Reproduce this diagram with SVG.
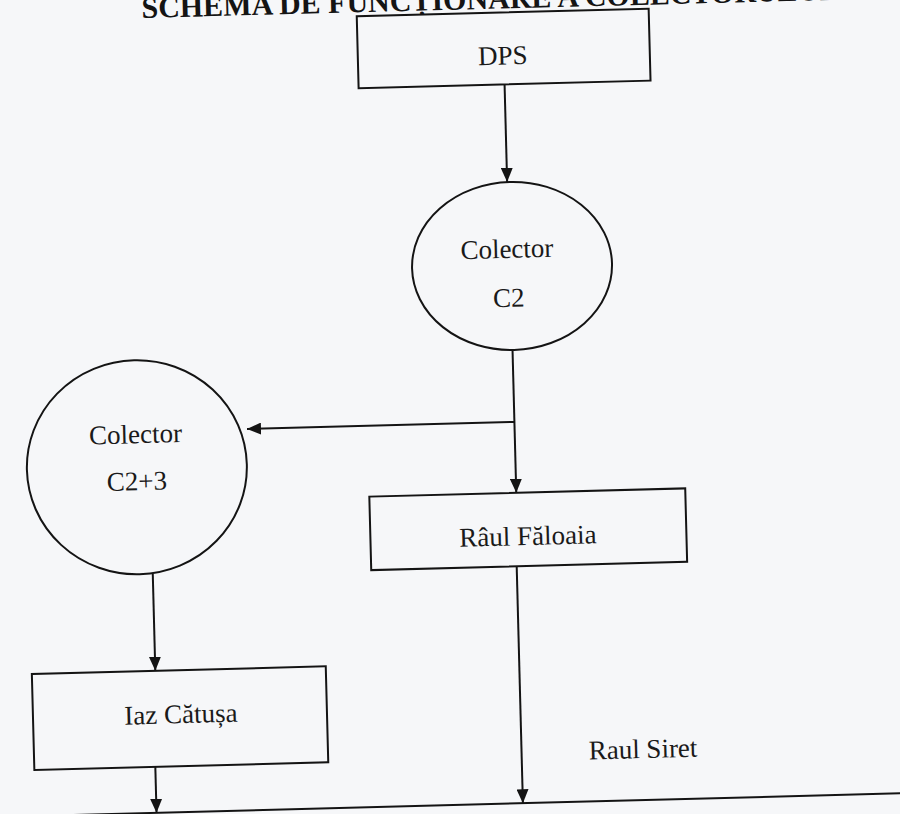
<svg xmlns="http://www.w3.org/2000/svg" width="900" height="814" viewBox="0 0 900 814">
  <style>
    .bg { fill: #f6f7f9; }
    .shape { fill: #f6f7f9; stroke: #141414; stroke-width: 2; }
    .conn { fill: none; stroke: #141414; stroke-width: 2; }
    .lbl { font-family: "Liberation Serif", "Times New Roman", serif; font-size: 27px; fill: #1a1a1a; text-anchor: middle; }
    .title { font-family: "Liberation Serif", "Times New Roman", serif; font-size: 30px; font-weight: bold; fill: #141414; }
  </style>
  <defs>
    <marker id="arrow" markerUnits="userSpaceOnUse" markerWidth="14" markerHeight="12" refX="14" refY="6" orient="auto">
      <path d="M0,0 L14,6 L0,12 z" fill="#141414"/>
    </marker>
  </defs>
  <rect class="bg" x="0" y="0" width="900" height="814"/>
  <g transform="rotate(-1.5 450 407)">
    <text id="title" class="title" x="152" y="10">SCHEMA DE FUNCȚIONARE A COLECTORULUI</text>

    <g id="connectors">
      <path class="conn" d="M513,86 L513,183.5" marker-end="url(#arrow)"/>
      <path class="conn" d="M514,351.6 L514,494.5" marker-end="url(#arrow)"/>
      <path class="conn" d="M514,423.6 L246.5,423.6" marker-end="url(#arrow)"/>
      <path class="conn" d="M148.5,566 L148.5,663" marker-end="url(#arrow)"/>
      <path class="conn" d="M512.5,568 L512.5,805" marker-end="url(#arrow)"/>
      <path class="conn" d="M146,759 L146,805" marker-end="url(#arrow)"/>
      <path class="conn" d="M-60,805 L960,805"/>
    </g>

    <g id="dps">
      <rect class="shape" x="367" y="14" width="292" height="72"/>
      <text class="lbl" x="512" y="66">DPS</text>
    </g>

    <g id="colector-c2">
      <ellipse class="shape" cx="515.7" cy="267.6" rx="100" ry="84"/>
      <text class="lbl" x="511" y="259.5">Colector</text>
      <text class="lbl" x="511.6" y="308.5">C2</text>
    </g>

    <g id="colector-c23">
      <ellipse class="shape" cx="135.4" cy="459" rx="110" ry="107"/>
      <text class="lbl" x="135" y="435">Colector</text>
      <text class="lbl" x="135" y="482">C2+3</text>
    </g>

    <g id="raul-faloaia">
      <rect class="shape" x="367" y="494.5" width="316" height="73.5"/>
      <text class="lbl" x="524.5" y="547">Râul Făloaia</text>
    </g>

    <g id="iaz-catusa">
      <rect class="shape" x="25" y="663" width="294" height="96"/>
      <text class="lbl" x="173" y="716">Iaz Cătușa</text>
    </g>

    <g id="raul-siret">
      <text class="lbl" x="634" y="763">Raul Siret</text>
    </g>
  </g>
</svg>
